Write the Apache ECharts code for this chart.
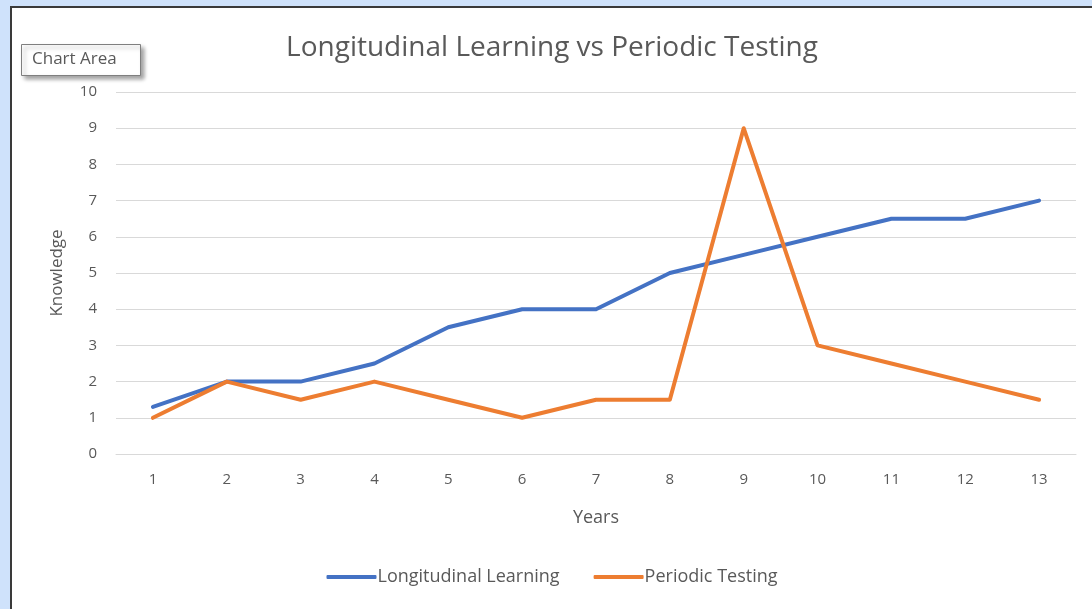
<!DOCTYPE html>
<html>
<head>
<meta charset="utf-8">
<script src="https://cdn.jsdelivr.net/npm/echarts@6/dist/echarts.min.js"></script>
<style>
  html, body { margin: 0; padding: 0; width: 1092px; height: 609px; overflow: hidden; background: #cfe2fb; }
  #chart { position: absolute; left: 10px; top: 6px; width: 1080px; height: 601px; background: #ffffff;
           border-left: 2px solid #3a3a3a; border-top: 2px solid #3a3a3a; }
</style>
</head>
<body>
<div id="chart"></div>
<script>
const titleText = 'Longitudinal Learning vs Periodic Testing';
const years = ['1','2','3','4','5','6','7','8','9','10','11','12','13'];
const longitudinal = [1.3, 2, 2, 2.5, 3.5, 4, 4, 5, 5.5, 6, 6.5, 6.5, 7];
const periodic = [1, 2, 1.5, 2, 1.5, 1, 1.5, 1.5, 9, 3, 2.5, 2, 1.5];
const seriesNames = ['Longitudinal Learning', 'Periodic Testing'];
const xName = 'Years';
const yName = 'Knowledge';

const font = '"Open Sans", Lato, "Noto Sans", sans-serif';
const grey = '#595959';
const chart = echarts.init(document.getElementById('chart'), null, { renderer: 'canvas' });
chart.setOption({
  animation: false,
  textStyle: { fontFamily: font },
  title: {
    text: titleText, left: 'center', top: 21,
    textStyle: { fontFamily: font, fontSize: 28, fontWeight: 'normal', color: grey }
  },
  legend: {
    data: seriesNames, bottom: 18, left: 'center',
    itemWidth: 50, itemHeight: 4, itemGap: 34,
    icon: 'roundRect',
    textStyle: { fontFamily: font, fontSize: 18, color: grey, padding: [0, 0, 0, -4] }
  },
  grid: { left: 104, right: 16, top: 84, bottom: 155 },
  xAxis: {
    type: 'category', data: years, boundaryGap: true,
    name: xName, nameLocation: 'middle', nameGap: 55,
    nameTextStyle: { fontFamily: font, fontSize: 18, color: grey },
    axisLine: { show: true, lineStyle: { color: '#d9d9d9', width: 1 } },
    axisTick: { show: false },
    axisLabel: { color: grey, fontSize: 15, margin: 18, fontFamily: font }
  },
  yAxis: {
    type: 'value', min: 0, max: 10, interval: 1,
    name: yName, nameLocation: 'middle', nameGap: 50, nameRotate: 90,
    nameTextStyle: { fontFamily: font, fontSize: 17, color: grey },
    axisLine: { show: false }, axisTick: { show: false },
    axisLabel: { color: grey, fontSize: 15, margin: 19, fontFamily: font },
    splitLine: { lineStyle: { color: '#d9d9d9', width: 1 } }
  },
  series: [
    { name: seriesNames[0], type: 'line', data: longitudinal, symbol: 'none',
      color: '#4472C4', lineStyle: { width: 4, color: '#4472C4', cap: 'round', join: 'round' } },
    { name: seriesNames[1], type: 'line', data: periodic, symbol: 'none',
      color: '#ED7D31', lineStyle: { width: 4, color: '#ED7D31', cap: 'round', join: 'round' } }
  ],
  graphic: [
    { type: 'rect', left: 9, top: 36, shape: { width: 119, height: 31 },
      style: { fill: '#ffffff', stroke: '#7f7f7f', lineWidth: 1,
               shadowBlur: 4, shadowOffsetX: 3, shadowOffsetY: 3, shadowColor: 'rgba(0,0,0,0.35)' }, z: 100 },
    { type: 'text', left: 20, top: 43,
      style: { text: 'Chart Area', fontFamily: font, fontSize: 17, fill: grey }, z: 101 }
  ]
});
</script>
</body>
</html>
